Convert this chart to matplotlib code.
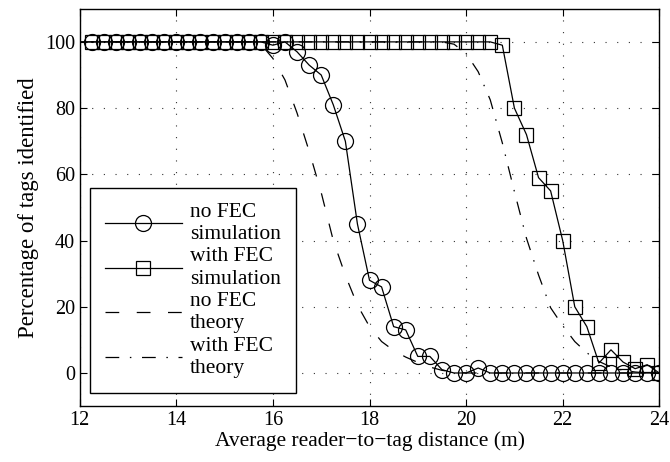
import numpy as np
import matplotlib
matplotlib.use("Agg")
import matplotlib.pyplot as plt

plt.rcParams["font.family"] = ["Liberation Serif", "DejaVu Serif"]
plt.rcParams["font.size"] = 14.5

# simulation points, every 0.25 m from 12.25 to 24
sim_x = np.arange(12.25, 24.001, 0.25)
nofec_sim = [100] * 15 + [99, 100, 97, 93, 90, 81, 70, 45, 28, 26, 14, 13, 5, 5,
                          1, 0, 0, 1.5] + [0] * 15
fec_sim = [100] * 34 + [99, 80, 72, 59, 55, 40, 20, 14, 3, 7, 3.3, 1.3, 2.5, 0]

# theory curves
nofec_th_x = [12, 15.5, 15.75, 16, 16.25, 16.5, 16.75, 17, 17.25, 17.5, 17.75, 18,
              18.25, 18.5, 18.75, 19, 19.25, 19.5, 19.75, 20, 24]
nofec_th_y = [100, 100, 99.3, 95, 88.5, 78.5, 67, 54.5, 40, 29.5, 20.5, 14,
              9.5, 6.8, 4.8, 3.2, 1.8, 0.8, 0.3, 0, 0]
fec_th_x = [12, 19.5, 19.75, 20, 20.25, 20.5, 20.75, 21, 21.25, 21.5, 21.75, 22,
            22.25, 22.5, 22.75, 23, 23.25, 23.5, 23.75, 24]
fec_th_y = [100, 100, 99.3, 96.5, 91, 82.5, 69.5, 54.8, 40.7, 29.6, 19.7, 14.3,
            9.5, 6.1, 3.5, 1.8, 0.8, 0.3, 0, 0]

x_ticks = [12, 14, 16, 18, 20, 22, 24]
y_ticks = [0, 20, 40, 60, 80, 100]

fig = plt.figure(figsize=(6.7, 4.62), dpi=100)
ax = fig.add_axes([0.119, 0.121, 0.865, 0.860])

lw = 0.9
ax.plot(sim_x, nofec_sim, color="black", lw=lw, marker="o", ms=11.5,
        mfc="none", mec="black", mew=0.9, label="no FEC\nsimulation")
ax.plot(sim_x, fec_sim, color="black", lw=lw, marker="s", ms=9.5,
        mfc="none", mec="black", mew=0.9, label="with FEC\nsimulation")
ax.plot(nofec_th_x, nofec_th_y, color="black", lw=lw, dashes=(11, 14),
        label="no FEC\ntheory")
ax.plot(fec_th_x, fec_th_y, color="black", lw=lw, dashes=(11, 8.5, 1.2, 8.5),
        label="with FEC\ntheory")

ax.set_xlim(12, 24)
ax.set_ylim(-10, 110)
ax.set_xticks(x_ticks)
ax.set_yticks(y_ticks)
ax.grid(True, color="#333333", lw=0.8, linestyle=(0, (1, 9.5)))
ax.tick_params(direction="in", top=True, right=True, length=5, width=0.8)
for s in ax.spines.values():
    s.set_linewidth(1.0)

ax.set_xlabel("Average reader\u2212to\u2212tag distance (m)", fontsize=15.5,
              labelpad=1)
ax.set_ylabel("Percentage of tags identified", fontsize=16.5, labelpad=4)

leg = ax.legend(loc="lower left", bbox_to_anchor=(0.017, 0.033),
                fontsize=15.5, handlelength=3.6, handletextpad=0.35,
                labelspacing=0.15, borderpad=0.7, borderaxespad=0,
                fancybox=False, framealpha=1, edgecolor="black")
leg.get_frame().set_linewidth(1.0)
for t in leg.get_texts():
    t.set_linespacing(1.24)

fig.savefig("out.png", dpi=100)
